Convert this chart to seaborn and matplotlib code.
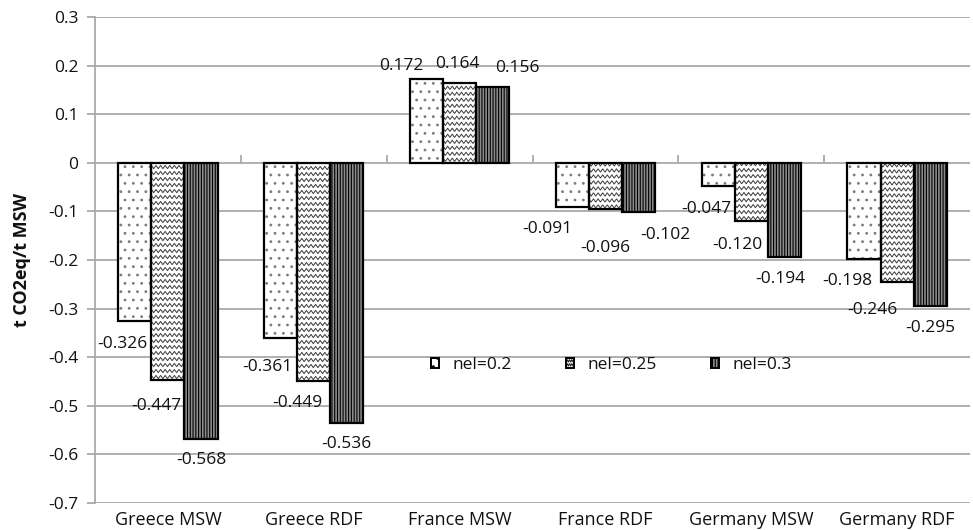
import numpy as np
import pandas as pd
import matplotlib
matplotlib.use("Agg")
import matplotlib.pyplot as plt
from matplotlib.patches import Rectangle
from matplotlib.lines import Line2D
from matplotlib.legend_handler import HandlerBase
from matplotlib.ticker import FuncFormatter, FixedLocator
import seaborn as sns

# ---- data -------------------------------------------------------------
categories = ["Greece MSW", "Greece RDF", "France MSW", "France RDF",
              "Germany MSW", "Germany RDF"]
series_names = ["nel=0.2", "nel=0.25", "nel=0.3"]
nel_02 = [-0.326, -0.361, 0.172, -0.091, -0.047, -0.198]
nel_025 = [-0.447, -0.449, 0.164, -0.096, -0.120, -0.246]
nel_03 = [-0.568, -0.536, 0.156, -0.102, -0.194, -0.295]
y_ticks = [0.3, 0.2, 0.1, 0, -0.1, -0.2, -0.3, -0.4, -0.5, -0.6, -0.7]
y_label = "t CO2eq/t MSW"

# label nudges (pixels right, pixels down) from each bar's end
label_nudge = [
    [(-12, 23), (-12, 26), (0, 21)],
    [(-13, 29), (-16, 22), (0, 21)],
    [(-25, -13), (-2, -19), (25, -19)],
    [(-25, 22), (0, 39), (27, 23)],
    [(-12, 23), (-14, 24), (-4, 22)],
    [(-17, 22), (-25, 28), (0, 22)],
]

df = pd.DataFrame({
    "category": np.repeat(categories, 3),
    "series": series_names * len(categories),
    "value": np.ravel(np.column_stack([nel_02, nel_025, nel_03])),
})

# ---- style ------------------------------------------------------------
sns.set_theme(style="white")
plt.rcParams["font.family"] = ["Open Sans", "DejaVu Sans"]
plt.rcParams["axes.unicode_minus"] = False
plt.rcParams["hatch.linewidth"] = 0.8

GRID = "#a9a9a9"
TXT = "#111111"
DPI = 100
fig = plt.figure(figsize=(9.73, 5.30), dpi=DPI)
ax = fig.add_axes([95 / 973, 1 - 503 / 530, 875 / 973, 486 / 530])

sns.barplot(data=df, x="category", y="value", hue="series",
            order=categories, hue_order=series_names, width=0.68,
            dodge=True, ax=ax, legend=False, errorbar=None,
            edgecolor="black", linewidth=1.6, saturation=1)

ax.set_xlim(-0.5, len(categories) - 0.5)
ax.set_ylim(-0.7, 0.3)

# fills: sparse grey dots / plain (wavy lines added below) / dark stripes
faces = ["white", "white", "#8c8c8c"]
hatches = ["..", None, "||||||"]
hatch_cols = ["#7a7a7a", "black", "black"]
for cont, fc, h, hc in zip(ax.containers, faces, hatches, hatch_cols):
    for bar in cont:
        bar.set_facecolor(fc)
        bar.set_hatch(h)
        bar.set_edgecolor(hc)
        bar.set_linewidth(0)
        bar.set_zorder(3)

fig.canvas.draw()
inv = ax.transData.inverted()


def zigzag_rows(x0, x1, y0, y1, period=4.6, amp=1.6, gap=6.0):
    """Rows of zigzag polylines filling a display-space box."""
    rows = []
    y = y0 + gap / 2
    while y < y1 + gap:
        xs = np.arange(x0 - period, x1 + period, period / 2)
        ys = y + amp * np.where(np.arange(len(xs)) % 2 == 0, 1, -1)
        rows.append((xs, ys))
        y += gap
    return rows


# wavy pattern for the middle series, clipped to each bar
for bar in ax.containers[1]:
    bb = bar.get_window_extent()
    for xs, ys in zigzag_rows(bb.x0, bb.x1, bb.y0, bb.y1):
        pts = inv.transform(np.column_stack([xs, ys]))
        ln = Line2D(pts[:, 0], pts[:, 1], color="#3a3a3a", lw=0.7, zorder=3.5)
        ax.add_line(ln)
        ln.set_clip_path(bar)

# black outlines on top of every bar
for cont in ax.containers:
    for bar in cont:
        ax.add_patch(Rectangle((bar.get_x(), bar.get_y()), bar.get_width(),
                               bar.get_height(), fill=False,
                               edgecolor="black", lw=1.6, zorder=4))

# value labels
for s, cont in enumerate(ax.containers):
    for c, bar in enumerate(cont):
        v = bar.get_height()
        dx, dy = label_nudge[c][s]
        ax.annotate(f"{v:.3f}", (bar.get_x() + bar.get_width() / 2, v),
                    xytext=(dx, -dy), textcoords="offset pixels",
                    ha="center", va="center", fontsize=12.5, color=TXT,
                    zorder=6)

# axes, grid and ticks
ax.yaxis.set_major_locator(FixedLocator(y_ticks))
ax.yaxis.set_major_formatter(FuncFormatter(lambda v, p: f"{v:g}"))
ax.grid(axis="y", color=GRID, lw=1.3, zorder=0)
ax.set_axisbelow(True)
for side in ["top", "right", "bottom"]:
    ax.spines[side].set_visible(False)
ax.spines["left"].set_color(GRID)
ax.spines["left"].set_linewidth(1.3)
ax.tick_params(axis="y", length=6, width=1.3, color=GRID, pad=6,
               labelsize=12.5, labelcolor=TXT, left=True)
ax.tick_params(axis="x", length=0, pad=6, labelsize=13, labelcolor=TXT)
ax.set_xlabel("")
ax.set_ylabel(y_label, fontsize=13, fontweight="bold", labelpad=12,
              color=TXT)

# category axis crossing at zero, with tick marks between groups
sec = ax.secondary_xaxis(0.7)
sec.set_xticks(np.arange(0.5, len(categories) - 0.5, 1.0))
sec.tick_params(axis="x", direction="out", length=6, width=1.3,
                color=GRID, labelbottom=False, labeltop=False)
sec.spines["bottom"].set_color(GRID)
sec.spines["bottom"].set_linewidth(1.3)
sec.spines["top"].set_visible(False)


# legend
class ZigzagHandler(HandlerBase):
    def create_artists(self, legend, orig_handle, xdescent, ydescent,
                       width, height, fontsize, trans):
        x0, y0 = -xdescent, -ydescent
        arts = [Rectangle((x0, y0), width, height, facecolor="white",
                          edgecolor="black", lw=1.4, transform=trans)]
        n = 6
        for frac in (0.3, 0.7):
            xs = np.linspace(x0 + 1, x0 + width - 1, n)
            ys = y0 + height * frac + height * 0.12 * np.where(
                np.arange(n) % 2 == 0, 1, -1)
            arts.append(Line2D(xs, ys, color="#222222", lw=0.8,
                               transform=trans))
        return arts


handles = [
    Rectangle((0, 0), 1, 1, facecolor="white", edgecolor="black",
              hatch="..", lw=1.4),
    Rectangle((0, 0), 1, 1, facecolor="white", edgecolor="black", lw=1.4),
    Rectangle((0, 0), 1, 1, facecolor=faces[2], edgecolor="black",
              hatch="||||||", lw=1.4),
]
leg = ax.legend(handles, series_names, ncol=3, loc="center",
                bbox_to_anchor=(0.59, 0.284), frameon=False, fontsize=12.5,
                handlelength=0.5, handleheight=0.5, handletextpad=0.75,
                columnspacing=3.1,
                handler_map={handles[1]: ZigzagHandler()})
for t in leg.get_texts():
    t.set_color(TXT)

fig.savefig("out.png", dpi=DPI, facecolor="white")
